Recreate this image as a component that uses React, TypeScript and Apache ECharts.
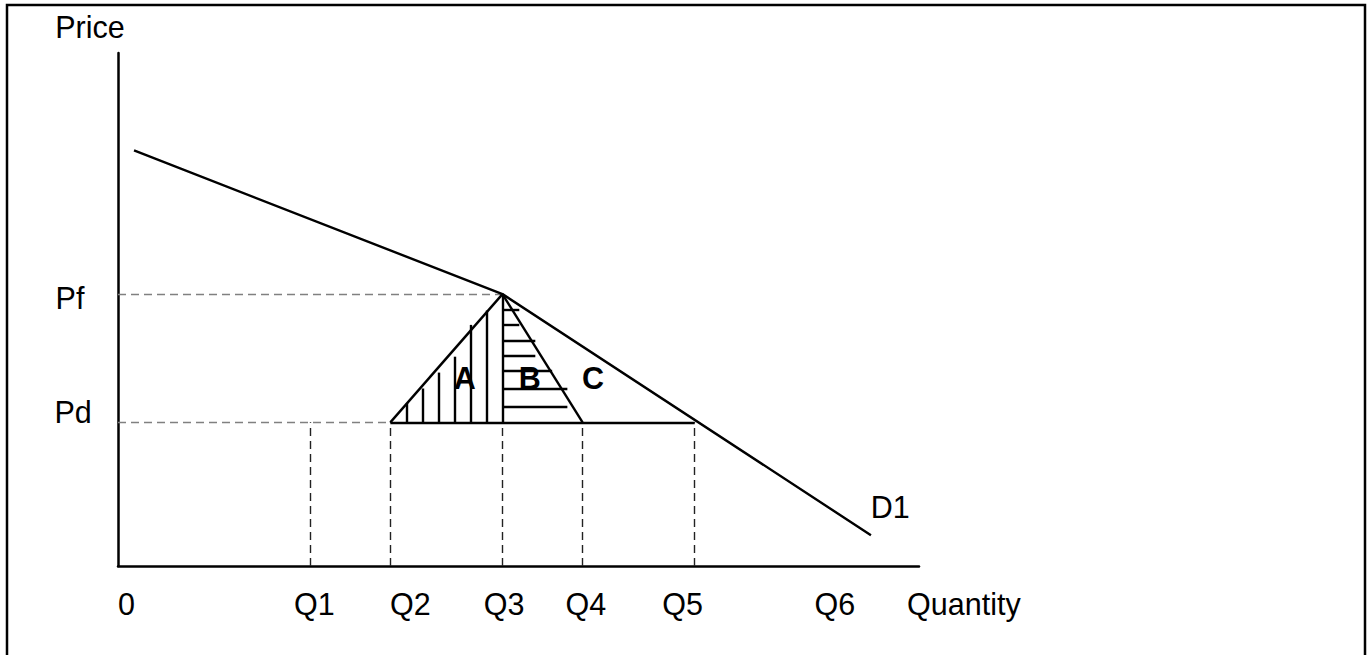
import React, { useEffect, useRef } from "react";
import * as echarts from "echarts";

// Quantities (data units) of Q1..Q5 vertical guides
const qNames = ["Q1", "Q2", "Q3", "Q4", "Q5"];
const qValues = [24, 34, 48, 58, 72];
// Prices
const pf = 53;
const pd = 28;
// Demand curve D1 (kinked)
const demandX = [2, 48, 94];
const demandY = [81, 53, 6];
// Triangle A vertical hatching
const hatchAX = [36, 38, 40, 42, 44, 46];
const hatchATop = [31.8, 34.6, 37.7, 40.8, 47, 49.8];
// Triangle B horizontal hatching
const hatchBY = [50, 47, 44, 41, 38, 34.5, 31];
const hatchBRight = [50.1, 50.1, 52.1, 52.1, 54.2, 56.1, 56.1];
// Axis labels
const xTickLabels = ["0", "Q1", "Q2", "Q3", "Q4", "Q5", "Q6", "Quantity"];
const xTickLabelPos = [1.06, 24.5, 36.5, 48.2, 58.4, 70.5, 89.5, 105.6];
const yTickLabels = ["Price", "Pf", "Pd"];
const yTickLabelPos = [[-3.5, 105], [-6, 52.2], [-5.6, 30.1]];
const areaLabels = ["A", "B", "C", "D1"];
const areaLabelPos = [[43.3, 36.6], [51.4, 36.6], [59.3, 36.6], [96.4, 11.5]];

const FONT = "'Liberation Sans', Arial, sans-serif";
const FS = 30.5;

export default function App() {
  const ref = useRef<HTMLDivElement>(null);
  useEffect(() => {
    if (!ref.current) return;
    const chart = echarts.init(ref.current, null, { renderer: "svg" });

    const solidSegs: any[] = [];
    // Pd solid line from Q2 to Q5
    solidSegs.push({ coords: [[qValues[1], pd], [qValues[4], pd]] });
    // Triangle A hypotenuse, Q3 vertical, triangle B side
    solidSegs.push({ coords: [[qValues[1], pd], [qValues[2], pf]] });
    solidSegs.push({ coords: [[qValues[2], pf], [qValues[2], pd]] });
    solidSegs.push({ coords: [[qValues[2], pf], [qValues[3], pd]] });
    hatchAX.forEach((x, i) => solidSegs.push({ coords: [[x, pd], [x, hatchATop[i]]] }));
    hatchBY.forEach((y, i) => solidSegs.push({ coords: [[qValues[2], y], [hatchBRight[i], y]] }));

    const grayDash: any[] = [
      { coords: [[0, pf], [qValues[2], pf]] },
      { coords: [[0, pd], [qValues[1], pd]] },
    ];
    const vDash: any[] = qValues.map((q) => ({ coords: [[q, 0], [q, pd]] }));

    const option: any = {
      animation: false,
      backgroundColor: "#fff",
      grid: { left: 118, right: 449, top: 53, bottom: 89 },
      xAxis: {
        type: "value", min: 0, max: 100,
        axisLine: { show: true, onZero: false, lineStyle: { color: "#000", width: 2.5 } },
        axisTick: { show: false }, axisLabel: { show: false }, splitLine: { show: false },
      },
      yAxis: {
        type: "value", min: 0, max: 100,
        axisLine: { show: true, onZero: false, lineStyle: { color: "#000", width: 2.5 } },
        axisTick: { show: false }, axisLabel: { show: false }, splitLine: { show: false },
      },
      series: [
        {
          type: "lines", coordinateSystem: "cartesian2d", data: grayDash,
          lineStyle: { color: "#808080", width: 1.4, type: [8, 5], opacity: 1 },
        },
        {
          type: "lines", coordinateSystem: "cartesian2d", data: vDash,
          lineStyle: { color: "#222", width: 1.4, type: [8, 5], opacity: 1 },
        },
        {
          type: "lines", coordinateSystem: "cartesian2d", data: solidSegs,
          lineStyle: { color: "#000", width: 2.4, opacity: 1 },
        },
        {
          name: "D1", type: "line", showSymbol: false,
          data: demandX.map((x, i) => [x, demandY[i]]),
          lineStyle: { color: "#000", width: 2.4 },
        },
      ],
    };
    chart.setOption(option);

    const toPx = (p: number[]) => chart.convertToPixel({ gridIndex: 0 }, p) as number[];
    const texts: any[] = [];
    xTickLabels.forEach((t, i) => {
      const [x, y] = toPx([xTickLabelPos[i], -7.4]);
      texts.push({ type: "text", x, y, style: { text: t, font: `${FS}px ${FONT}`, fill: "#000", align: "center", verticalAlign: "middle" } });
    });
    yTickLabels.forEach((t, i) => {
      const [x, y] = toPx(yTickLabelPos[i]);
      texts.push({ type: "text", x, y, style: { text: t, font: `${FS}px ${FONT}`, fill: "#000", align: "center", verticalAlign: "middle" } });
    });
    areaLabels.forEach((t, i) => {
      const [x, y] = toPx(areaLabelPos[i]);
      const bold = t !== "D1";
      texts.push({ type: "text", x, y, style: { text: t, font: `${bold ? "bold " : ""}${FS}px ${FONT}`, fill: "#000", align: "center", verticalAlign: "middle" } });
    });
    texts.push({
      type: "rect", shape: { x: 7, y: 5, width: 1358, height: 700 },
      style: { fill: "none", stroke: "#000", lineWidth: 2.5 }, silent: true,
    });
    chart.setOption({ graphic: texts });

    return () => chart.dispose();
  }, []);
  return (
    <div
      ref={ref}
      style={{ position: "fixed", left: 0, top: 0, width: 1368, height: 655, background: "#fff" }}
    />
  );
}
